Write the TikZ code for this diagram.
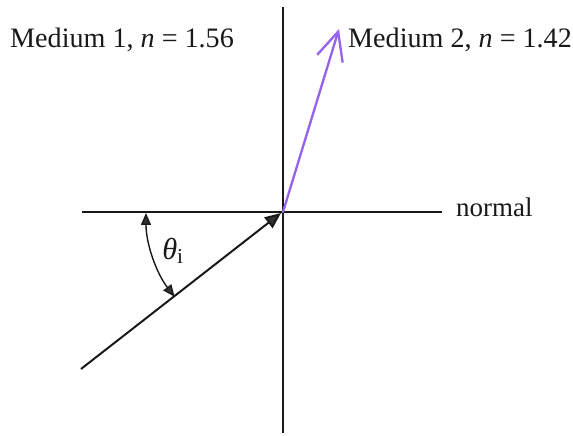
\documentclass[tikz,border=0pt]{standalone}
\usepackage{fontspec}
\setmainfont{Liberation Serif}
\usetikzlibrary{arrows.meta}
\definecolor{linecol}{RGB}{25,25,25}
\definecolor{tipcol}{RGB}{50,50,50}
\definecolor{raycol}{RGB}{150,100,235}
\tikzset{
  axisline/.style={linecol, line width=1.7pt},
  label/.style={font=\fontsize{24}{29}\selectfont, text=linecol, inner sep=0pt}
}

\begin{document}
\begin{tikzpicture}[
    >=Latex,
    scale=0.03, yscale=-1
  ]

  % --- frame -------------------------------------------------------------
  \useasboundingbox (0,0) rectangle (573,435);

  % --- coordinates -------------------------------------------------------
  \coordinate (Origin) at (283,212);
  \coordinate (Top) at (283,7);
  \coordinate (Bottom) at (283,433);
  \coordinate (Left) at (82,212);
  \coordinate (Right) at (442,212);
  \coordinate (SrcPos) at (81,369);
  \coordinate (InTip) at (281,213);
  \coordinate (OutTip) at (339,29);
  \coordinate (ArcStart) at (146,213);

  % --- boundary and normal -----------------------------------------------
  \draw[axisline] (Top) -- (Bottom);
  \draw[axisline] (Left) -- (Right);

  % --- incident ray ------------------------------------------------------
  \draw[axisline, -{Triangle[length=4.8mm, width=4mm, fill=tipcol]}] (SrcPos) -- (InTip);

  % --- refracted ray -----------------------------------------------------
  \draw[raycol, line width=2pt, line cap=round,
        -{Straight Barb[length=8.5mm, width=8mm, line width=2pt]}] (Origin) -- (OutTip);

  % --- angle of incidence ------------------------------------------------
  \draw[linecol, line width=1.2pt,
        {Triangle[length=3.6mm, width=3mm, fill=tipcol]}-{Triangle[length=3.6mm, width=3mm, fill=tipcol]}]
    (ArcStart) arc[start angle=180, end angle=142.3, radius=137];
  \node[label, font=\fontsize{26}{31}\selectfont] (ThetaLbl) at (173,251) {\textit{θ}\textsubscript{i}};

  % --- labels ------------------------------------------------------------
  \node[label, anchor=base west] (MedOne) at (10,47) {Medium 1, \textit{n} = 1.56};
  \node[label, anchor=base west] (MedTwo) at (348,47) {Medium 2, \textit{n} = 1.42};
  \node[label, anchor=base west, font=\fontsize{23}{28}\selectfont] (NormalLbl) at (456,216) {normal};

\end{tikzpicture}
\end{document}
